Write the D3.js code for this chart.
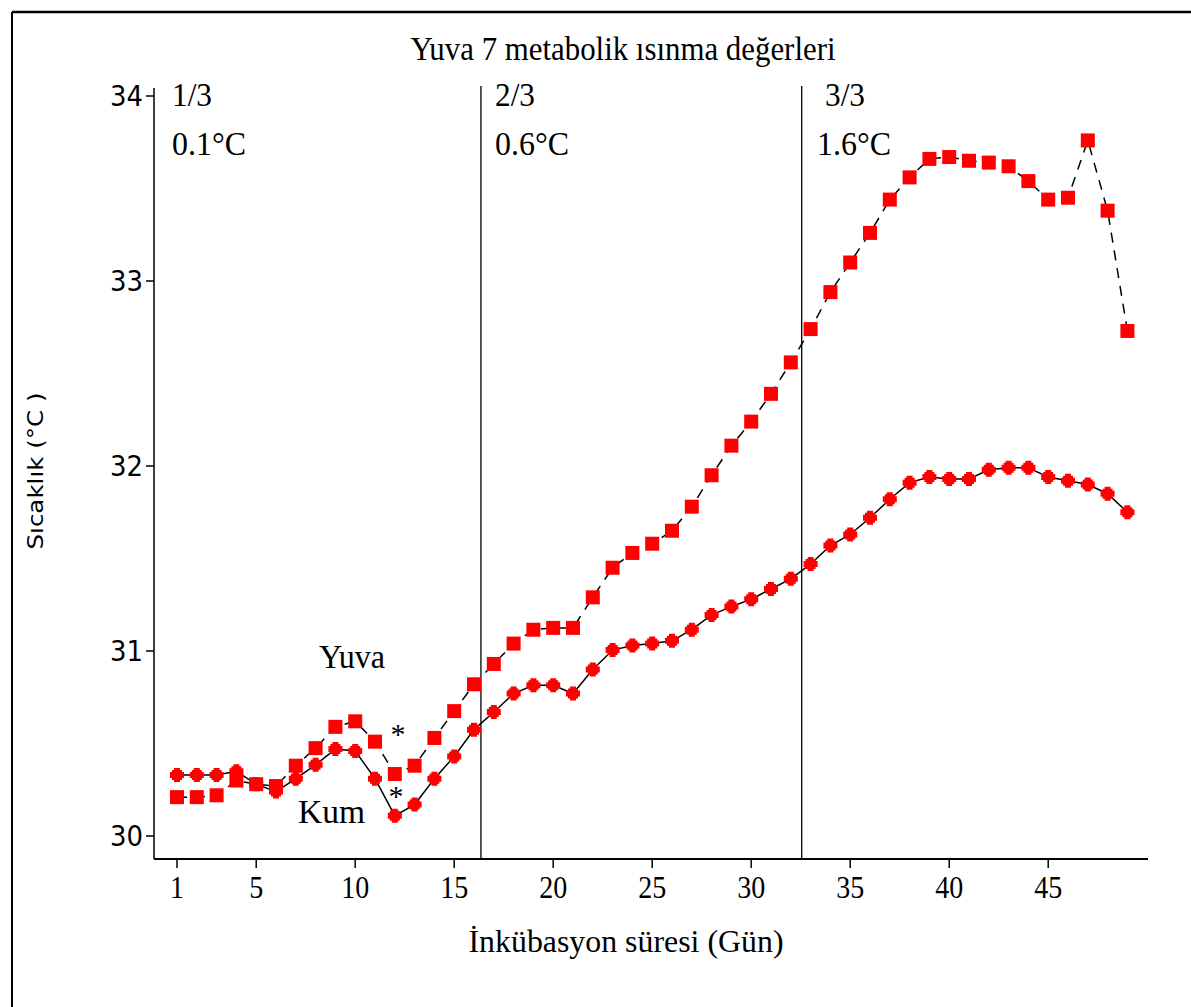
<!DOCTYPE html>
<html><head><meta charset="utf-8">
<script src="https://cdn.jsdelivr.net/npm/d3@7"></script>
<style>body{margin:0;background:#fff}svg{display:block}</style>
</head><body>
<script>
const days = d3.range(1, 50);
const yuva = [30.21,30.21,30.22,30.30,30.28,30.27,30.38,30.475,30.59,30.62,30.51,30.335,30.38,30.53,30.675,30.82,30.93,31.04,31.115,31.125,31.125,31.29,31.45,31.53,31.58,31.65,31.78,31.95,32.11,32.24,32.39,32.56,32.74,32.94,33.10,33.26,33.44,33.56,33.66,33.67,33.65,33.64,33.62,33.54,33.44,33.45,33.76,33.38,32.73];
const kum = [30.33,30.33,30.33,30.35,30.28,30.24,30.31,30.385,30.47,30.46,30.31,30.11,30.17,30.31,30.43,30.575,30.67,30.77,30.815,30.815,30.77,30.90,31.005,31.03,31.04,31.055,31.115,31.195,31.24,31.28,31.335,31.39,31.47,31.57,31.63,31.72,31.82,31.91,31.94,31.93,31.93,31.98,31.99,31.99,31.94,31.92,31.90,31.85,31.75];
const xTicks = [1,5,10,15,20,25,30,35,40,45];
const yTicks = [30,31,32,33,34];
const dividers = [16.35, 32.55];
const phaseLabels = ["1/3","2/3","3/3"];
const phaseDiffs = ["0.1°C","0.6°C","1.6°C"];

const W = 1191, H = 1007;
const svg = d3.select("body").append("svg").attr("width", W).attr("height", H);
const x = d3.scaleLinear().domain([1,49]).range([177, 1127.4]);
const y = d3.scaleLinear().domain([30,34]).range([836, 96]);
const serif = "'Liberation Serif','Times New Roman',serif";
const sans = "'DejaVu Sans',Verdana,sans-serif";

// frame
svg.append("line").attr("x1",12).attr("x2",W).attr("y1",12).attr("y2",12).attr("stroke","#000").attr("stroke-width",2.5);
svg.append("line").attr("x1",12).attr("x2",12).attr("y1",12).attr("y2",H).attr("stroke","#000").attr("stroke-width",2);

// title
svg.append("text").attr("x",623).attr("y",60).attr("text-anchor","middle")
  .attr("font-family",serif).attr("font-size",33).attr("textLength",425).attr("lengthAdjust","spacingAndGlyphs")
  .text("Yuva 7 metabolik ısınma değerleri");

// y axis
const axisY = 859;
svg.append("line").attr("x1",154).attr("x2",154).attr("y1",88).attr("y2",axisY).attr("stroke","#000").attr("stroke-width",1.5);
svg.append("g").selectAll("line").data(yTicks).join("line")
  .attr("x1",146).attr("x2",154).attr("y1",d=>y(d)).attr("y2",d=>y(d)).attr("stroke","#000").attr("stroke-width",1.5);
svg.append("g").selectAll("text").data(yTicks).join("text")
  .attr("x",143).attr("y",d=>y(d)+10).attr("text-anchor","end")
  .attr("font-family",sans).attr("font-size",28).attr("textLength",33).attr("lengthAdjust","spacingAndGlyphs")
  .text(d=>d);

// x axis
svg.append("line").attr("x1",154).attr("x2",1148).attr("y1",axisY).attr("y2",axisY).attr("stroke","#000").attr("stroke-width",2);
svg.append("g").selectAll("line").data(xTicks).join("line")
  .attr("x1",d=>x(d)).attr("x2",d=>x(d)).attr("y1",axisY).attr("y2",axisY+9).attr("stroke","#000").attr("stroke-width",1.5);
svg.append("g").selectAll("text").data(xTicks).join("text")
  .attr("x",d=>x(d)).attr("y",898).attr("text-anchor","middle")
  .attr("font-family",serif).attr("font-size",32)
  .each(function(d){ const s=String(d); d3.select(this).attr("textLength", s.length===1?14:28).attr("lengthAdjust","spacingAndGlyphs"); })
  .text(d=>d);

// axis titles
svg.append("text").attr("x",626).attr("y",952).attr("text-anchor","middle")
  .attr("font-family",serif).attr("font-size",32).attr("textLength",315).attr("lengthAdjust","spacingAndGlyphs")
  .text("İnkübasyon süresi (Gün)");
svg.append("text").attr("transform","translate(43,471) rotate(-90)").attr("text-anchor","middle")
  .attr("font-family",sans).attr("font-size",22).attr("textLength",157).attr("lengthAdjust","spacingAndGlyphs")
  .text("Sıcaklık (°C )");

// dividers
svg.append("g").selectAll("line").data(dividers).join("line")
  .attr("x1",d=>x(d)).attr("x2",d=>x(d)).attr("y1",86).attr("y2",axisY).attr("stroke","#000").attr("stroke-width",1.3);

// phase labels
const phaseX = [172, 495, 825];
const diffX = [172, 495, 817];
svg.append("g").selectAll("text").data(phaseLabels).join("text")
  .attr("x",(d,i)=>phaseX[i]).attr("y",106).attr("font-family",serif).attr("font-size",33)
  .attr("textLength",40).attr("lengthAdjust","spacingAndGlyphs").text(d=>d);
svg.append("g").selectAll("text").data(phaseDiffs).join("text")
  .attr("x",(d,i)=>diffX[i]).attr("y",155).attr("font-family",serif).attr("font-size",33)
  .attr("textLength",74).attr("lengthAdjust","spacingAndGlyphs").text(d=>d);

// lines
const pts = s => days.map((d,i)=>[x(d), y(s[i])]);
const line = d3.line();
svg.append("path").attr("d", line(pts(yuva))).attr("fill","none").attr("stroke","#000").attr("stroke-width",1.5).attr("stroke-dasharray","10,8");
svg.append("path").attr("d", line(pts(kum))).attr("fill","none").attr("stroke","#000").attr("stroke-width",1.5);

// markers
svg.append("g").selectAll("rect").data(yuva).join("rect")
  .attr("x",(d,i)=>x(days[i])-7).attr("y",d=>y(d)-7).attr("width",14).attr("height",14).attr("fill","#ff0000");
const crossPath = "M-3,-7H3V-5H5V-3H7V3H5V5H3V7H-3V5H-5V3H-7V-3H-5V-5H-3Z";
svg.append("g").selectAll("path").data(kum).join("path")
  .attr("transform",(d,i)=>`translate(${x(days[i])},${y(d)})`).attr("d",crossPath).attr("fill","#ff0000");

// series labels
svg.append("text").attr("x",319).attr("y",668).attr("font-family",serif).attr("font-size",33)
  .attr("textLength",66).attr("lengthAdjust","spacingAndGlyphs").text("Yuva");
svg.append("text").attr("x",298).attr("y",823).attr("font-family",serif).attr("font-size",33)
  .attr("textLength",67).attr("lengthAdjust","spacingAndGlyphs").text("Kum");
svg.append("text").attr("x",398).attr("y",744).attr("text-anchor","middle").attr("font-family",serif).attr("font-size",30).text("*");
svg.append("text").attr("x",396).attr("y",806).attr("text-anchor","middle").attr("font-family",serif).attr("font-size",30).text("*");
</script>
</body></html>
